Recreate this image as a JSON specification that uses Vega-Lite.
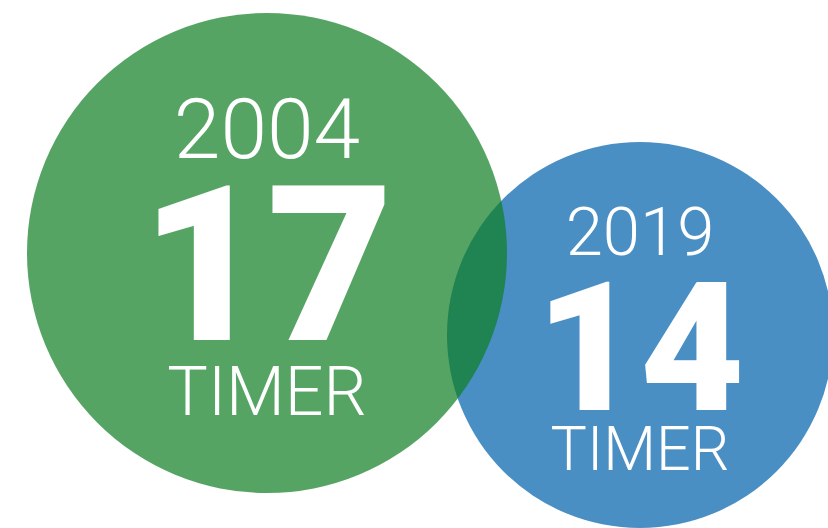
{
  "$schema": "https://vega.github.io/schema/vega-lite/v6.json",
  "width": 828,
  "height": 528,
  "autosize": {"type": "fit", "contains": "padding"},
  "padding": 0,
  "background": "white",
  "config": {"view": {"stroke": null}},
  "data": {"values": [
    {"year": 2019, "count": 14, "unit": "TIMER"},
    {"year": 2004, "count": 17, "unit": "TIMER"}
  ]},
  "encoding": {
    "x": {"field": "year", "type": "quantitative", "scale": {"domain": [2004, 2019], "range": [267, 640], "zero": false, "nice": false}, "axis": null}
  },
  "layer": [
    {
      "mark": {"type": "point", "shape": "circle", "filled": true, "strokeWidth": 0},
      "encoding": {
        "y": {"field": "count", "type": "quantitative", "scale": {"domain": [17, 14], "range": [253, 335], "zero": false, "nice": false}, "axis": null},
        "size": {"field": "count", "type": "quantitative", "scale": {"domain": [14, 17], "range": [148996, 230400], "zero": false, "nice": false}, "legend": null},
        "color": {"field": "year", "type": "nominal", "scale": {"domain": [2004, 2019], "range": ["#0e7e22", "#4a8fc4"]}, "legend": null},
        "opacity": {"field": "year", "type": "nominal", "scale": {"domain": [2004, 2019], "range": [0.7, 1]}, "legend": null}
      }
    },
    {
      "mark": {"type": "text", "font": "Roboto", "fontWeight": 300, "color": "white", "baseline": "alphabetic", "align": "center"},
      "encoding": {
        "text": {"field": "year", "type": "nominal"},
        "y": {"field": "count", "type": "quantitative", "scale": {"domain": [17, 14], "range": [158, 255], "zero": false, "nice": false}, "axis": null},
        "size": {"field": "count", "type": "quantitative", "scale": {"domain": [14, 17], "range": [67, 84], "zero": false, "nice": false}, "legend": null}
      }
    },
    {
      "mark": {"type": "text", "font": "Roboto", "fontWeight": 900, "color": "white", "baseline": "alphabetic", "align": "center"},
      "encoding": {
        "text": {"field": "count", "type": "nominal"},
        "y": {"field": "count", "type": "quantitative", "scale": {"domain": [17, 14], "range": [340, 410], "zero": false, "nice": false}, "axis": null},
        "size": {"field": "count", "type": "quantitative", "scale": {"domain": [14, 17], "range": [180, 218], "zero": false, "nice": false}, "legend": null}
      }
    },
    {
      "mark": {"type": "text", "font": "Roboto", "fontWeight": 300, "color": "white", "baseline": "alphabetic", "align": "center"},
      "encoding": {
        "text": {"field": "unit", "type": "nominal"},
        "y": {"field": "count", "type": "quantitative", "scale": {"domain": [17, 14], "range": [415, 470], "zero": false, "nice": false}, "axis": null},
        "size": {"field": "count", "type": "quantitative", "scale": {"domain": [14, 17], "range": [61, 68], "zero": false, "nice": false}, "legend": null}
      }
    }
  ],
  "resolve": {"scale": {"y": "independent", "size": "independent"}}
}
